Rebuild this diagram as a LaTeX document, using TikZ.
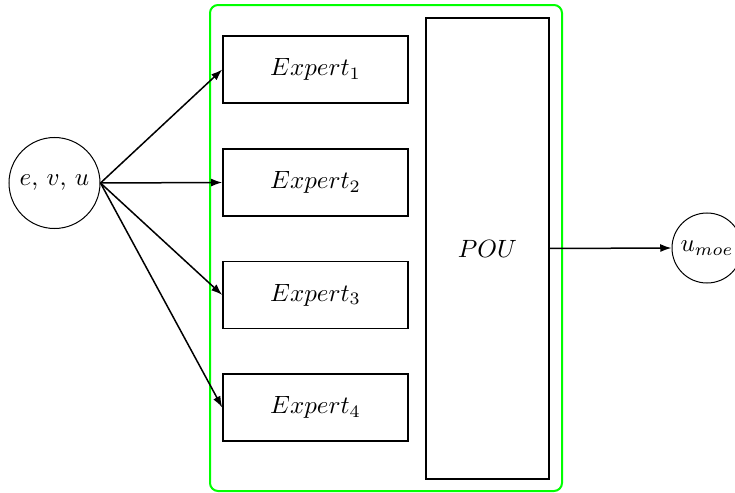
\documentclass[tikz,border=0pt]{standalone}
\usetikzlibrary{arrows.meta}
\begin{document}
\begin{tikzpicture}[x=0.4pt,y=-0.4pt,
  expert/.style={draw, line width=0.6pt, minimum width=74pt, minimum height=26.8pt, inner sep=0pt},
  pou/.style={draw, line width=0.6pt, minimum width=49.2pt, minimum height=184.4pt, inner sep=0pt},
  io/.style={draw, circle, line width=0.4pt, inner sep=0pt},
  conn/.style={line width=0.6pt, -{Latex[length=4.5pt,width=3.2pt]}},
  group/.style={draw=green, line width=0.8pt, rounded corners=3.2pt}]
\useasboundingbox (0,0) rectangle (735,493);
\draw[group] (210,5) rectangle (562,491);
\node[io, minimum size=36.4pt] (ev) at (54.5,183) {$e$, $v$, $u$};
\node[expert] (e1) at (315.5,69.5) {$Expert_1$};
\node[expert] (e2) at (315.5,182.5) {$Expert_2$};
\node[expert] (e3) at (315.5,295) {$Expert_3$};
\node[expert] (e4) at (315.5,407.5) {$Expert_4$};
\node[pou] (pou) at (487.5,248.5) {$POU$};
\node[io, minimum size=28pt] (umoe) at (707,248) {$u_{moe}$};
\foreach \t in {e1,e2,e3,e4} \draw[conn] (ev.east) -- (\t.west);
\draw[conn] (pou.east) -- (umoe.west);
\end{tikzpicture}
\end{document}
